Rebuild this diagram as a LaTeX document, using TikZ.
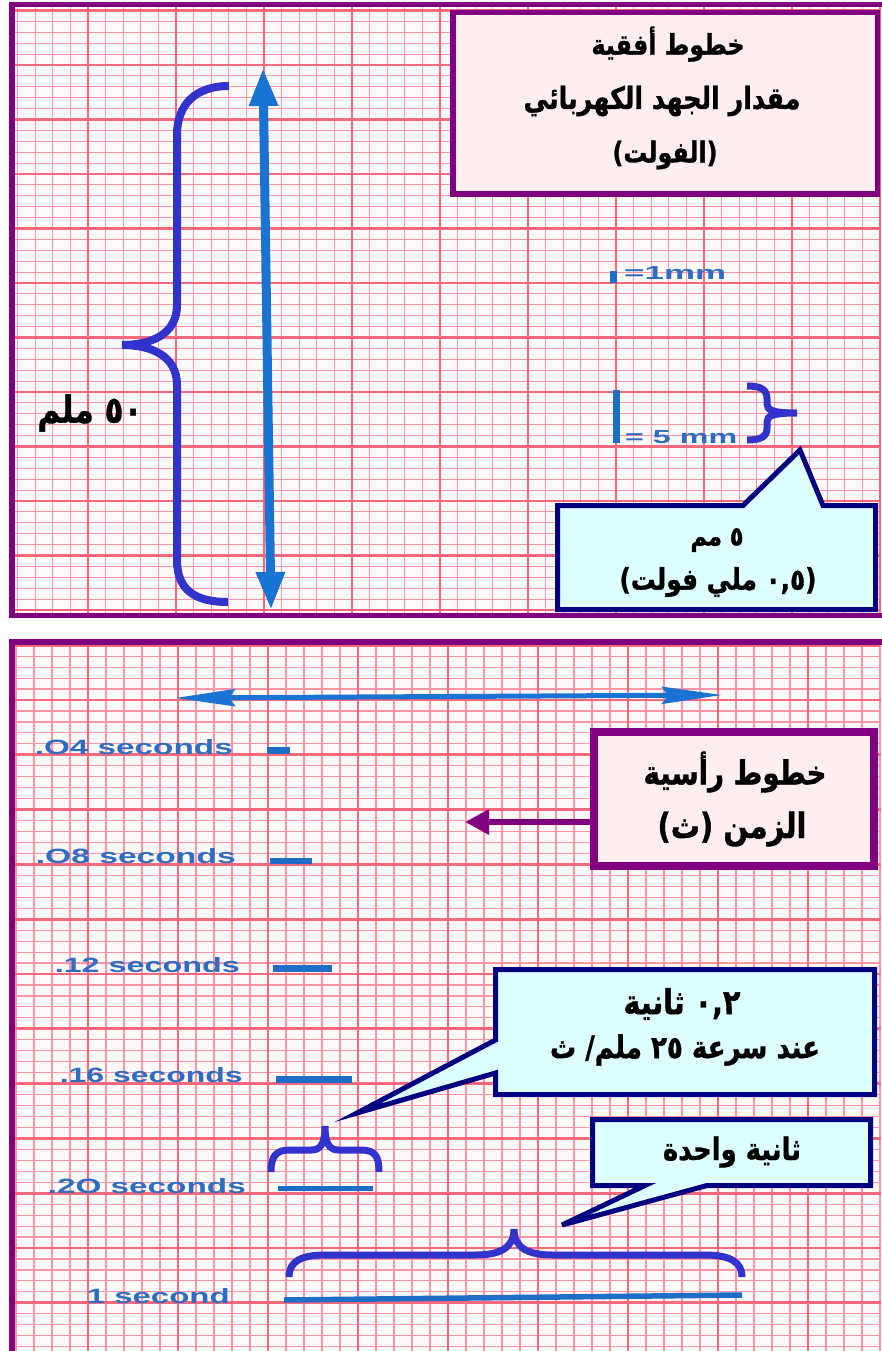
\documentclass[tikz,border=0pt]{standalone}
\usepackage{fontspec}
\usepackage{graphicx}
\usetikzlibrary{arrows.meta,calc}
\TeXXeTstate=1
\newfontfamily\arabicfont[Script=Arabic, BoldFeatures={FakeBold=1.2}]{DejaVu Sans}
\newfontfamily\labelfont{Liberation Sans}
\definecolor{gridthin}{RGB}{255,150,166}
\definecolor{gridthick}{RGB}{248,105,125}
\definecolor{paper}{RGB}{255,250,250}
\definecolor{framepurple}{RGB}{128,0,128}
\definecolor{boxpink}{RGB}{255,238,240}
\definecolor{calloutfill}{RGB}{222,255,255}
\definecolor{navyline}{RGB}{0,0,128}
\definecolor{arrowblue}{RGB}{25,115,210}
\definecolor{bracecol}{RGB}{50,50,205}
\definecolor{textblue}{RGB}{45,110,195}
\definecolor{barblue}{RGB}{30,110,200}
% Arabic line of given width, slightly taller
\newcommand\arw[2]{\scalebox{1}[1.2]{\resizebox{#1}{!}{\arabicfont\bfseries #2}}}
% blue printed label of given width and cap height
\newcommand\blw[3]{\resizebox{#1}{#2}{\labelfont\bfseries #3}}
\tikzset{
  thingrid/.style={draw=gridthin, line width=1.15pt},
  thickgrid/.style={draw=gridthick, line width=2.8pt},
  panelframe/.style={draw=framepurple, line width=5.5pt},
  pinkbox/.style={draw=framepurple, fill=boxpink, inner sep=0pt},
  calloutshape/.style={draw=navyline, fill=calloutfill, line width=5pt, line join=miter},
  artext/.style={text=black, inner sep=0pt, font=\fontsize{26}{30}\selectfont},
  bracepath/.style={draw=bracecol, line width=7.5pt},
  lbl/.style={text=textblue, inner sep=0pt, font=\fontsize{20}{24}\selectfont},
  bar/.style={draw=barblue, line width=6.5pt},
}
\begin{document}
\begin{tikzpicture}[x=1pt,y=-1pt]
\useasboundingbox (0,0) rectangle (881,1351);
\fill[white] (0,0) rectangle (881,1351);
% ---------- top panel grid ----------
\begin{scope}
\clip (14.5,7) rectangle (881,613);
\fill[paper] (0,0) rectangle (881,620);
\foreach \k in {0,...,50} \draw[thingrid] (\k*17.6,0) -- (\k*17.6,620);
\foreach \k in {0,...,57} \draw[thingrid] (0,-0.4+\k*10.9) -- (881,-0.4+\k*10.9);
\foreach \k in {0,...,10} \draw[thickgrid] (\k*88,0) -- (\k*88,620);
\foreach \k in {0,...,11} \draw[thickgrid] (0,10.5+\k*54.5) -- (881,10.5+\k*54.5);
\end{scope}
\draw[panelframe] (12,4.5) rectangle (895,615.5);
% ---------- bottom panel grid ----------
\begin{scope}
\clip (14.5,645) rectangle (881,1351);
\fill[paper] (0,640) rectangle (881,1351);
\foreach \k in {0,...,49} \draw[thingrid] (-2+\k*18,640) -- (-2+\k*18,1351);
\foreach \k in {0,...,66} \draw[thingrid] (0,634.24+\k*10.96) -- (881,634.24+\k*10.96);
\foreach \k in {0,...,9} \draw[thickgrid] (-2+\k*90,640) -- (-2+\k*90,1351);
\foreach \k in {0,...,13} \draw[thickgrid] (0,645.2+\k*54.8) -- (881,645.2+\k*54.8);
\end{scope}
\draw[framepurple, line width=6pt] (11.5,642) rectangle (895,1400);

% ---------- top panel content ----------
\node[pinkbox, line width=5.5pt, minimum width=424.5pt, minimum height=181.5pt] (hbox) at (665,103.5) {};
\node[artext] (h1) at (668,44)  {\arw{153pt}{\beginR خطوط أفقية\endR}};
\node[artext] (h2) at (662,101) {\arw{277pt}{\beginR مقدار الجهد الكهربائي\endR}};
\node[artext] (h3) at (665,155) {\arw{105pt}{\beginR (الفولت)\endR}};

\coordinate (vtop) at (263,68);
\coordinate (vbot) at (271,610);
\draw[arrowblue, line width=9pt, {Triangle[length=38pt,width=27pt]}-{Triangle[length=38pt,width=27pt]}] (vtop) -- (vbot);

\draw[bracepath, line width=8pt] (229,86) .. controls (195,86) and (177,105) .. (177,135) -- (177,305)
  .. controls (177,335) and (150,345) .. (122,345) .. controls (150,345) and (177,355) .. (177,385)
  -- (177,560) .. controls (177,590) and (195,602) .. (228,602);
\node[artext] (fifty) at (90,413) {\arw{105pt}{\beginR ٥٠ ملم\endR}};

\coordinate (b1a) at (613.5,271);
\coordinate (b1b) at (613.5,283);
\draw[bar] (b1a) -- (b1b);
\node[lbl, anchor=west] (onemm) at (624,273) {\blw{102pt}{13pt}{=1mm}};
\coordinate (b5a) at (616.5,390);
\coordinate (b5b) at (616.5,443);
\draw[bar] (b5a) -- (b5b);
\node[lbl, anchor=west] (fivemm) at (625,437) {\blw{112pt}{13pt}{= 5 mm}};

\draw[bracepath, line width=7pt] (747,386) .. controls (762,386) and (767,390) .. (767,399) -- (767,404)
  .. controls (767,410) and (772,413) .. (797,413) .. controls (772,413) and (767,416) .. (767,422)
  -- (767,428) .. controls (767,436) and (762,440) .. (747,440);

\draw[calloutshape] (557.5,505.5) -- (743,505.5) -- (800,450) -- (823,505.5) -- (875.5,505.5)
  -- (875.5,609.5) -- (557.5,609.5) -- cycle;
\node[artext] (c1a) at (717,540) {\arw{53pt}{\beginR ٥ مم\endR}};
\node[artext] (c1b) at (718,582) {\arw{197pt}{\beginR (٠,٥ ملي فولت)\endR}};

% ---------- bottom panel content ----------
\coordinate (hleft) at (175,698);
\coordinate (hright) at (722,695);
\draw[arrowblue, line width=5pt, {Stealth[length=60pt,width=17pt,inset=6pt]}-{Stealth[length=60pt,width=17pt,inset=6pt]}] (hleft) -- (hright);

\node[pinkbox, line width=8pt, minimum width=280pt, minimum height=134pt] (tbox) at (734,799) {};
\node[artext] (t1) at (735,772) {\arw{183pt}{\beginR خطوط رأسية\endR}};
\node[artext] (t2) at (732,829) {\arw{149pt}{\beginR الزمن (ث)\endR}};
\coordinate (ptip) at (465,822);
\draw[framepurple, line width=6pt, -{Triangle[length=24pt,width=24pt]}] (tbox.west |- ptip) -- (ptip);

\node[lbl, anchor=east] (l04) at (233,747) {\blw{198pt}{15pt}{.O4 seconds}};
\node[lbl, anchor=east] (l08) at (236,856) {\blw{200pt}{15pt}{.O8 seconds}};
\node[lbl, anchor=east] (l12) at (240,965) {\blw{185pt}{15pt}{.12 seconds}};
\node[lbl, anchor=east] (l16) at (243,1075) {\blw{183pt}{15pt}{.16 seconds}};
\node[lbl, anchor=east] (l20) at (246,1186) {\blw{198pt}{15pt}{.2O seconds}};
\node[lbl, anchor=east] (l1s) at (230,1296) {\blw{143pt}{15pt}{1 second}};

\coordinate (s04a) at (267,750.5); \coordinate (s04b) at (290,750.5);
\coordinate (s08a) at (270,861);   \coordinate (s08b) at (312,861);
\coordinate (s12a) at (273,968.5); \coordinate (s12b) at (332,968.5);
\coordinate (s16a) at (276,1079.5);\coordinate (s16b) at (352,1079.5);
\coordinate (s20a) at (278,1188.5);\coordinate (s20b) at (373,1188.5);
\coordinate (s1a) at (284,1300);   \coordinate (s1b) at (742,1295);
\draw[bar] (s04a) -- (s04b);
\draw[bar] (s08a) -- (s08b);
\draw[bar] (s12a) -- (s12b);
\draw[bar] (s16a) -- (s16b);
\draw[bar, line width=5.5pt] (s20a) -- (s20b);
\draw[bar, line width=5.5pt] (s1a) -- (s1b);

\draw[bracepath, line width=7pt] (271,1172) .. controls (271,1156) and (276,1150) .. (290,1150) -- (311,1150)
  .. controls (320,1150) and (325,1145) .. (325,1126) .. controls (325,1145) and (330,1150) .. (339,1150)
  -- (361,1150) .. controls (375,1150) and (379,1156) .. (379,1172);

\draw[bracepath, line width=7pt] (289,1277) .. controls (289,1262) and (300,1255) .. (325,1255) -- (475,1255)
  .. controls (500,1255) and (514,1248) .. (514,1229) .. controls (514,1248) and (528,1255) .. (553,1255)
  -- (705,1255) .. controls (730,1255) and (742,1262) .. (742,1277);

\draw[calloutshape] (495.5,969.5) -- (874.5,969.5) -- (874.5,1094.5) -- (495.5,1094.5) -- (495.5,1073)
  -- (357,1113) -- (495.5,1040) -- cycle;
\node[artext] (c2a) at (682,1004) {\arw{117pt}{\beginR ٠,٢ ثانية\endR}};
\node[artext] (c2b) at (685,1050) {\arw{270pt}{\beginR عند سرعة ٢٥ ملم/ ث\endR}};

\draw[calloutshape] (592.5,1119.5) -- (870.5,1119.5) -- (870.5,1185.5) -- (707,1185.5) -- (562,1225)
  -- (645,1185.5) -- (592.5,1185.5) -- cycle;
\node[artext] (c3) at (732,1152) {\arw{138pt}{\beginR ثانية واحدة\endR}};
\end{tikzpicture}
\end{document}
